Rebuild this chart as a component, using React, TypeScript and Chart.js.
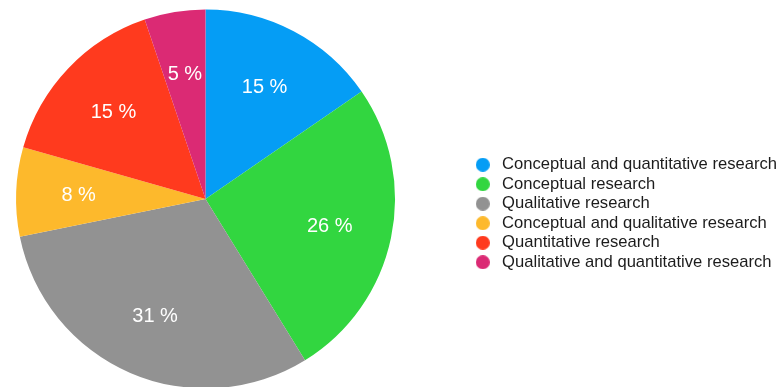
import React, { useEffect, useRef } from 'react';
import { Chart, registerables } from 'chart.js';

Chart.register(...registerables);

const categories = [
  'Conceptual and quantitative research',
  'Conceptual research',
  'Qualitative research',
  'Conceptual and qualitative research',
  'Quantitative research',
  'Qualitative and quantitative research',
];

const shares = [15.4, 25.8, 30.6, 7.6, 15.4, 5.2];

const sliceColors = ['#059df5', '#32d640', '#929292', '#fdb92c', '#ff3a1e', '#db2a74'];

const FONT = '"Liberation Sans", Arial, Helvetica, sans-serif';

function makeDot(color: string) {
  const c = document.createElement('canvas');
  c.width = 14;
  c.height = 14;
  const g = c.getContext('2d')!;
  g.fillStyle = color;
  g.beginPath();
  g.arc(7, 7, 7, 0, Math.PI * 2);
  g.fill();
  return c;
}

const percentLabels = {
  id: 'percentLabels',
  afterDatasetsDraw(chart: any) {
    const ctx = chart.ctx;
    const meta = chart.getDatasetMeta(0);
    const values = chart.data.datasets[0].data as number[];
    ctx.save();
    ctx.font = `20px ${FONT}`;
    ctx.fillStyle = '#ffffff';
    ctx.textAlign = 'center';
    ctx.textBaseline = 'middle';
    meta.data.forEach((arc: any, i: number) => {
      const { x, y, startAngle, endAngle, outerRadius } = arc.getProps(
        ['x', 'y', 'startAngle', 'endAngle', 'outerRadius'],
        true
      );
      const mid = (startAngle + endAngle) / 2;
      const r = outerRadius * 0.67;
      ctx.fillText(`${Math.round(values[i])} %`, x + Math.cos(mid) * r, y + 1 + Math.sin(mid) * r);
    });
    ctx.restore();
  },
};

export default function App() {
  const ref = useRef<HTMLCanvasElement | null>(null);

  useEffect(() => {
    if (!ref.current) return;
    const dots = sliceColors.map(makeDot);
    const baseGen = (Chart as any).overrides.doughnut.plugins.legend.labels.generateLabels;
    const chart = new Chart(ref.current, {
      type: 'pie',
      data: {
        labels: categories,
        datasets: [
          {
            data: shares,
            backgroundColor: sliceColors,
            borderWidth: 0,
            hoverOffset: 0,
            radius: 189.5,
          } as any,
        ],
      },
      options: {
        responsive: false,
        animation: false,
        events: [],
        layout: { padding: { left: 0.14, right: 0, top: 9.5, bottom: 11.5 } },
        plugins: {
          tooltip: { enabled: false },
          legend: {
            position: 'right',
            align: 'center',
            title: {
              display: true,
              text: '',
              padding: { top: 18.9, bottom: 0 },
              font: { size: 10, lineHeight: 1 },
            },
            labels: {
              usePointStyle: true,
              pointStyleWidth: 22,
              boxHeight: 10,
              padding: 2.9,
              color: '#1c1c1c',
              font: { family: FONT, size: 16.6 },
              generateLabels: (c: any) =>
                baseGen(c).map((item: any, i: number) => ({ ...item, pointStyle: dots[i] })),
            },
          },
        },
      } as any,
      plugins: [percentLabels],
    });
    return () => chart.destroy();
  }, []);

  return (
    <div
      style={{
        position: 'fixed',
        left: 0,
        top: 0,
        width: 783,
        height: 387,
        overflow: 'hidden',
        background: '#ffffff',
      }}
    >
      <canvas
        ref={ref}
        width={845}
        height={400}
        style={{ position: 'absolute', left: -58, top: 0, width: 845, height: 400 }}
      />
    </div>
  );
}
